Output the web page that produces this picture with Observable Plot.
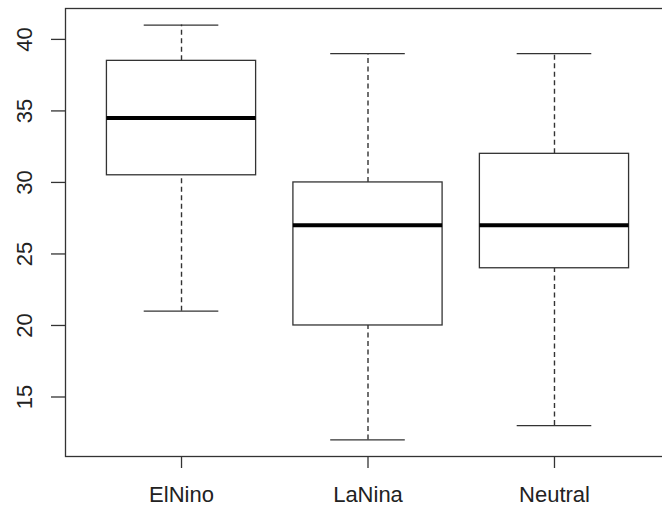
<!DOCTYPE html>
<html>
<head>
<meta charset="utf-8">
<script src="https://cdn.jsdelivr.net/npm/d3@7"></script>
<script src="https://cdn.jsdelivr.net/npm/@observablehq/plot@0.6"></script>
<style>
  html, body { margin: 0; padding: 0; background: white; overflow: hidden; }
  #chart { width: 662px; height: 506px; overflow: hidden; }
</style>
</head>
<body>
<div id="chart"></div>
<script>
const categories = ["ElNino", "LaNina", "Neutral"];
const mins    = [21, 12, 13];
const q1s     = [30.5, 20, 24];
const medians = [34.5, 27, 27];
const q3s     = [38.5, 30, 32];
const maxs    = [41, 39, 39];
const yTicks  = [15, 20, 25, 30, 35, 40];

const data = categories.map((c, i) => ({
  cat: c, pos: i + 1,
  min: mins[i], q1: q1s[i], med: medians[i], q3: q3s[i], max: maxs[i]
}));

const n = categories.length;
const ext = (n) * 0.04;
const lo = Math.min(...mins), hi = Math.max(...maxs);
const yext = (hi - lo) * 0.04;

const ink = "#333";
const font = "Liberation Sans, Arial, Helvetica, sans-serif";

const chart = Plot.plot({
  width: 662,
  height: 506,
  marginLeft: 65,
  marginRight: -8,
  marginTop: 8,
  marginBottom: 50,
  style: { fontFamily: font, background: "white", overflow: "visible" },
  x: { type: "linear", domain: [0.5 - ext, n + 0.5 + ext], range: [65.4, 669.6] },
  y: { domain: [lo - yext, hi + yext], range: [456, 8] },
  marks: [
    // dashed whiskers
    Plot.ruleX(data, { x: "pos", y1: "q3", y2: "max", stroke: ink, strokeWidth: 1.4, strokeDasharray: "5,3.5" }),
    Plot.ruleX(data, { x: "pos", y1: "min", y2: "q1", stroke: ink, strokeWidth: 1.4, strokeDasharray: "5,3.5" }),
    // staples
    Plot.ruleY(data, { y: "max", x1: d => d.pos - 0.2, x2: d => d.pos + 0.2, stroke: ink, strokeWidth: 1.3 }),
    Plot.ruleY(data, { y: "min", x1: d => d.pos - 0.2, x2: d => d.pos + 0.2, stroke: ink, strokeWidth: 1.3 }),
    // boxes
    Plot.rect(data, { x1: d => d.pos - 0.4, x2: d => d.pos + 0.4, y1: "q1", y2: "q3", fill: "white", stroke: ink, strokeWidth: 1.3 }),
    // medians
    Plot.ruleY(data, { y: "med", x1: d => d.pos - 0.4, x2: d => d.pos + 0.4, stroke: "#000", strokeWidth: 4 }),
    // frame
    Plot.frame({ stroke: ink, strokeWidth: 1.3 }),
    // axes
    Plot.axisY(yTicks, { tickSize: 14, tickPadding: 20, tickRotate: -90, fontSize: 22, stroke: ink, strokeWidth: 1.3, fill: "#222", label: null }),
    Plot.axisX(categories.map((c, i) => i + 1), { tickSize: 12, tickPadding: 18, fontSize: 22, tickFormat: d => categories[d - 1], stroke: ink, strokeWidth: 1.3, fill: "#222", label: null })
  ]
});
document.getElementById("chart").appendChild(chart);
</script>
</body>
</html>
